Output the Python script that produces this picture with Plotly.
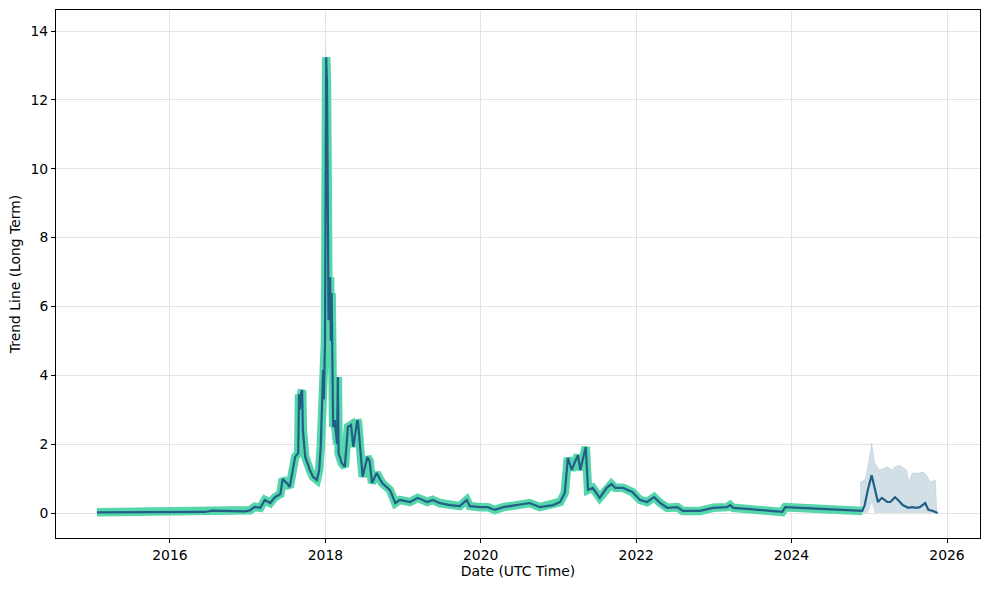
import plotly.graph_objects as go
import pandas as pd

# ---- data (decimal years, values) ----
hist_year = [2015.06, 2015.74, 2016.45, 2016.54, 2016.97, 2017.03, 2017.09, 2017.16, 2017.22, 2017.29,
             2017.35, 2017.42, 2017.45, 2017.51, 2017.54, 2017.61, 2017.65, 2017.66, 2017.67, 2017.69,
             2017.70, 2017.71, 2017.74, 2017.80, 2017.84, 2017.89, 2017.92, 2017.94, 2017.96, 2017.97,
             2017.98, 2017.995, 2018.01, 2018.02, 2018.03, 2018.04, 2018.06, 2018.07, 2018.08, 2018.10,
             2018.12, 2018.15, 2018.16, 2018.17, 2018.21, 2018.25, 2018.29, 2018.33, 2018.36, 2018.41,
             2018.42, 2018.46, 2018.48, 2018.54, 2018.57, 2018.60, 2018.66, 2018.73, 2018.79, 2018.83,
             2018.90, 2018.96, 2019.09, 2019.19, 2019.31, 2019.38, 2019.47, 2019.60, 2019.73, 2019.82,
             2019.86, 2019.99, 2020.09, 2020.18, 2020.29, 2020.47, 2020.63, 2020.76, 2020.93, 2021.02,
             2021.08, 2021.12, 2021.17, 2021.21, 2021.25, 2021.28, 2021.32, 2021.35, 2021.38, 2021.44,
             2021.53, 2021.62, 2021.68, 2021.73, 2021.83, 2021.95, 2022.05, 2022.14, 2022.23, 2022.31,
             2022.40, 2022.53, 2022.60, 2022.82, 2022.99, 2023.17, 2023.21, 2023.25, 2023.43, 2023.68,
             2023.88, 2023.92, 2024.11, 2024.37, 2024.58, 2024.91]
hist_value = [0.02, 0.02, 0.03, 0.07, 0.05, 0.08, 0.18, 0.15, 0.38, 0.29,
              0.46, 0.55, 0.99, 0.85, 0.75, 1.63, 1.74, 3.45, 3.0, 3.5,
              3.57, 2.4, 1.63, 1.25, 1.05, 0.96, 1.25, 1.92, 4.07, 4.15,
              3.3, 5.0, 13.24, 12.5, 9.4, 5.6, 6.85, 5.0, 6.39, 2.5,
              2.7, 2.0, 3.95, 1.74, 1.45, 1.34, 2.5, 2.56, 1.92, 2.7,
              2.64, 1.54, 1.05, 1.63, 1.5, 0.87, 1.16, 0.87, 0.76, 0.67,
              0.29, 0.38, 0.32, 0.44, 0.32, 0.38, 0.29, 0.23, 0.2, 0.38,
              0.2, 0.17, 0.17, 0.09, 0.17, 0.23, 0.29, 0.17, 0.23, 0.32,
              0.58, 1.6, 1.25, 1.48, 1.68, 1.25, 1.63, 1.92, 0.67, 0.73,
              0.44, 0.73, 0.84, 0.73, 0.73, 0.61, 0.38, 0.32, 0.46, 0.29,
              0.15, 0.17, 0.06, 0.06, 0.15, 0.17, 0.23, 0.15, 0.12, 0.06,
              0.03, 0.17, 0.15, 0.12, 0.09, 0.06]

fc_year = [2024.94, 2024.98, 2025.03, 2025.07, 2025.11, 2025.16, 2025.23, 2025.27, 2025.33, 2025.37,
           2025.43, 2025.50, 2025.55, 2025.61, 2025.65, 2025.72, 2025.76, 2025.82, 2025.88]
fc_value = [0.23, 0.67, 1.1, 0.67, 0.32, 0.44, 0.32, 0.32, 0.46, 0.38,
            0.23, 0.15, 0.17, 0.15, 0.17, 0.29, 0.09, 0.06, 0.0]

band_year = [2024.88, 2024.94, 2024.98, 2025.03, 2025.07, 2025.13, 2025.23, 2025.30, 2025.33, 2025.39,
             2025.48, 2025.51, 2025.55, 2025.62, 2025.69, 2025.74, 2025.78, 2025.85, 2025.87]
band_upper = [0.9, 0.96, 1.34, 2.03, 1.45, 1.25, 1.34, 1.25, 1.34, 1.39,
              1.25, 0.9, 1.16, 1.16, 1.19, 1.1, 0.9, 0.96, 0.0]
band_lower = [0.0, 0.0, 0.0, 0.29, 0.0, 0.0, 0.0, 0.0, 0.0, 0.0,
              0.0, 0.0, 0.0, 0.0, 0.0, 0.0, 0.0, 0.0, 0.0]

peak_band_year = [2017.998, 2018.008, 2018.018]
peak_band_upper = [12.0, 13.92, 12.0]

x_ticks = [2016, 2018, 2020, 2022, 2024, 2026]


def to_date(y):
    yr = int(y)
    start = pd.Timestamp(year=yr, month=1, day=1)
    end = pd.Timestamp(year=yr + 1, month=1, day=1)
    return start + (end - start) * (y - yr)


hist_x = [to_date(v) for v in hist_year]
fc_x = [to_date(v) for v in fc_year]
band_x = [to_date(v) for v in band_year]
peak_x = [to_date(v) for v in peak_band_year]

GREEN = "#55d6ac"
BLUE = "#215f86"
BAND = "rgba(33,95,134,0.2)"

fig = go.Figure()
# uncertainty band (forecast)
fig.add_trace(go.Scatter(x=band_x, y=band_lower, mode="lines", line=dict(width=0),
                         showlegend=False, hoverinfo="skip"))
fig.add_trace(go.Scatter(x=band_x, y=band_upper, mode="lines", line=dict(width=1, color="rgba(33,95,134,0.12)"),
                         fill="tonexty", fillcolor=BAND, showlegend=False, hoverinfo="skip"))
# band tip at the 2018 peak
fig.add_trace(go.Scatter(x=peak_x, y=peak_band_upper, mode="lines", line=dict(width=0),
                         fill="toself", fillcolor=BAND, showlegend=False, hoverinfo="skip"))
# actual (thick green)
fig.add_trace(go.Scatter(x=hist_x, y=hist_value, mode="lines",
                         line=dict(color=GREEN, width=8.5), showlegend=False))
# trend (blue)
fig.add_trace(go.Scatter(x=hist_x + fc_x, y=hist_value + fc_value, mode="lines",
                         line=dict(color=BLUE, width=2.2), showlegend=False))

font = dict(family="DejaVu Sans", size=13.9, color="black")
fig.update_layout(
    width=989, height=590,
    margin=dict(l=56, r=9, t=10, b=52),
    paper_bgcolor="white", plot_bgcolor="white",
    font=font,
    xaxis=dict(
        type="date",
        range=[to_date(2014.533), to_date(2026.425)],
        tickvals=[to_date(v) for v in x_ticks],
        ticktext=[str(v) for v in x_ticks],
        showgrid=True, gridcolor="#e3e3e3", gridwidth=1,
        showline=True, linecolor="black", linewidth=1, mirror=True,
        ticks="outside", ticklen=4, tickcolor="black", tickwidth=1,
        zeroline=False,
        title=dict(text="Date (UTC Time)", standoff=4, font=font),
    ),
    yaxis=dict(
        range=[-0.726, 14.61],
        tickvals=[0, 2, 4, 6, 8, 10, 12, 14],
        showgrid=True, gridcolor="#e3e3e3", gridwidth=1,
        showline=True, linecolor="black", linewidth=1, mirror=True,
        ticks="outside", ticklen=4, tickcolor="black", tickwidth=1,
        zeroline=False,
        title=dict(text="Trend Line (Long Term)", standoff=6, font=font),
    ),
)

fig.write_html("out.html")
